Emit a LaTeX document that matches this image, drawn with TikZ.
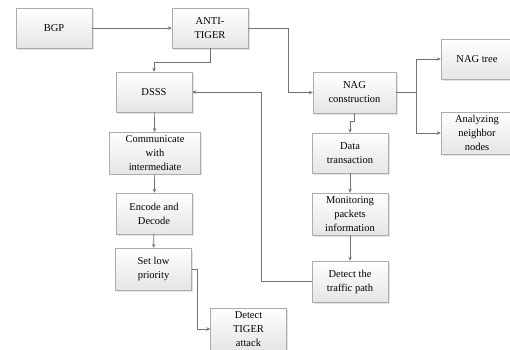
\documentclass[tikz,border=0pt]{standalone}
\usepackage{fontspec}
\setmainfont{Liberation Serif}
\usetikzlibrary{positioning,shadows,arrows.meta}
\tikzset{
  block/.style={draw=gray!65, top color=white, bottom color=gray!20,
    drop shadow={shadow xshift=1.5pt, shadow yshift=-1.5pt, fill=gray!45},
    minimum width=76pt, minimum height=40pt, align=center,
    font=\fontsize{10.5}{14}\selectfont},
  link/.style={draw=black!55, line width=0.7pt,
    -{Stealth[length=4pt,width=3.5pt]}}
}

\begin{document}
\begin{tikzpicture}[x=1pt,y=-1pt]
      \useasboundingbox (0,0) rectangle (510,349);
      % Define nodes
      \node[block] (bgp) at (54,28) {BGP};
      \node[block] (anti) at (210,28) {ANTI-\\TIGER};
      \node[block] (dsss) at (154,92) {DSSS};
      \node[block, minimum width=83pt, minimum height=41pt] (nagc) at (354.5,92.5) {NAG\\construction};
      \node[block, minimum width=72pt] (nagt) at (477,59) {NAG tree};
      \node[block, minimum width=72pt, minimum height=42pt] (anlz) at (477,133) {Analyzing\\neighbor\\nodes};
      \node[block] (data) at (350,153) {Data\\transaction};
      \node[block, minimum height=42pt] (moni) at (350,214) {Monitoring\\packets\\information};
      \node[block, minimum height=41pt] (dtraf) at (350,281.5) {Detect the\\traffic path};
      \node[block, minimum width=91pt] (comm) at (155,153) {Communicate\\with\\intermediate};
      \node[block, minimum height=41pt] (enc) at (154,213.5) {Encode and\\Decode};
      \node[block, minimum height=42pt] (slow) at (153.5,269) {Set low\\priority};
      \node[block, minimum height=42pt] (dtig) at (248.5,329) {Detect\\TIGER\\attack};
      % Connect the nodes
      \draw[link] (bgp) -- (anti);
      \draw[link] (anti.east) -- ++(40,0) |- (nagc.west);
      \draw[link] (anti.south) -- ++(0,14) -| (dsss.north);
      \draw[link] (dsss) -- (comm);
      \draw[link] (comm) -- (enc);
      \draw[link] (enc) -- (slow);
      \draw[link] (slow.east) -- ++(6,0) |- (dtig.west);
      \draw[link] (nagc.east) -- ++(20,0) |- (nagt.west);
      \draw[link] (nagc.east) -- ++(20,0) |- (anlz.west);
      \draw[link] (nagc.south) -- ++(0,8) -| (data.north);
      \draw[link] (data) -- (moni);
      \draw[link] (moni) -- (dtraf);
      \draw[link] (dtraf.west) -- ++(-50,0) |- (dsss.east);
\end{tikzpicture}
\end{document}
